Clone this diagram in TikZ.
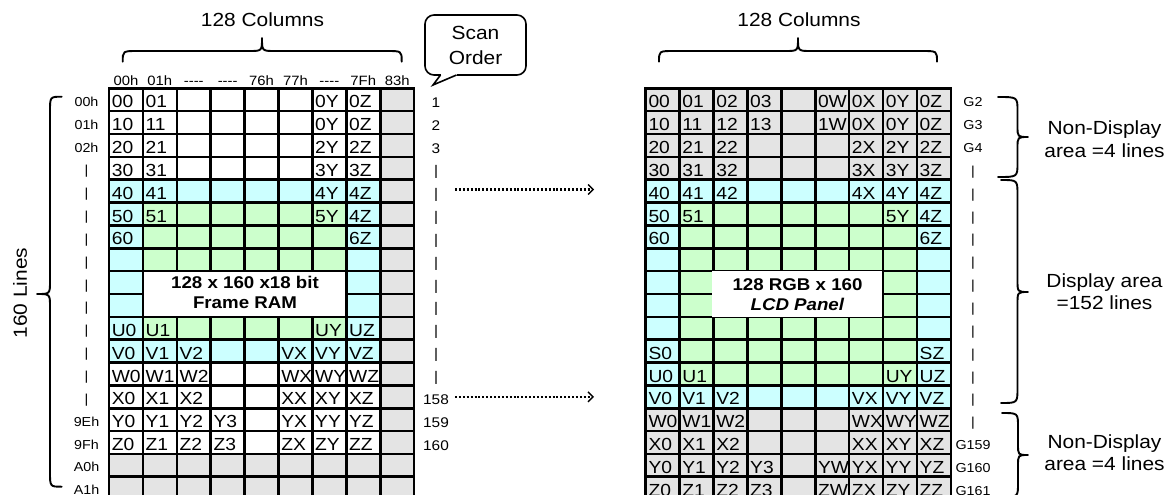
\documentclass[tikz,border=0pt]{standalone}
\usepackage{fontspec}
\setmainfont{Liberation Sans}[FakeStretch=1.1]
\usetikzlibrary{arrows.meta}
\definecolor{cW}{RGB}{255,255,255}
\definecolor{cC}{RGB}{204,255,255}
\definecolor{cN}{RGB}{204,255,204}
\definecolor{cG}{RGB}{228,228,228}
% horizontal brace, tip up: #1 y ends, #2 y straight, #3 y tip, #4 x left, #5 x right, #6 x tip, #7 end radius, #8 tip radius
\newcommand\mybraceh[8]{\draw[bracestyle] (#4,#1) .. controls (#4,#2) .. ({#4+#7},#2) -- ({#6-#8},#2) .. controls (#6,#2) .. (#6,#3) .. controls (#6,#2) .. ({#6+#8},#2) -- ({#5-#7},#2) .. controls (#5,#2) .. (#5,#1);}
% vertical brace: #1 x ends, #2 x straight, #3 x tip, #4 y top, #5 y bottom, #6 y tip, #7 end radius, #8 tip radius
\newcommand\mybracev[8]{\draw[bracestyle] (#1,#4) .. controls (#2,#4) .. (#2,{#4+#7}) -- (#2,{#6-#8}) .. controls (#2,#6) .. (#3,#6) .. controls (#2,#6) .. (#2,{#6+#8}) -- (#2,{#5-#7}) .. controls (#2,#5) .. (#1,#5);}
\newcommand\dsh{-{}-{}-{}-}
\begin{document}
\begin{tikzpicture}[x=1pt,y=-1pt,
  gridline/.style={line width=2.6pt, line cap=rect},
  celltxt/.style={anchor=base west, inner sep=0pt, font=\fontsize{17.5}{20}\selectfont},
  rowlbl/.style={anchor=base, inner sep=0pt, font=\fontsize{13}{15}\selectfont},
  collbl/.style={anchor=base, inner sep=0pt, font=\fontsize{13.5}{15}\selectfont},
  scanlbl/.style={anchor=base, inner sep=0pt, font=\fontsize{14}{16}\selectfont},
  glbl/.style={anchor=base, inner sep=0pt, font=\fontsize{13}{15}\selectfont},
  ttl/.style={inner sep=0pt, font=\fontsize{19}{22}\selectfont},
  sidetxt/.style={inner sep=0pt, align=center, font=\fontsize{19}{22.5}\selectfont},
  boxtxt/.style={inner sep=0pt, align=center, font=\fontsize{17}{20}\selectfont\bfseries},
  bracestyle/.style={line width=1.9pt, line cap=round, line join=round},
  dotarrow/.style={line width=2.2pt, dash pattern=on 2pt off 1.9pt, -{Straight Barb[length=5pt,width=10pt,line width=1.4pt]}},
]
\useasboundingbox (0,0) rectangle (1172,495);
\clip (0,0) rectangle (1172,495);
\def\LX{109}\def\RX{645.7}\def\GY{88.3}\def\CW{33.9}\def\RH{22.85}
% ---------- left grid fills
\foreach \row [count=\ri from 0] in {
{W,W,W,W,W,W,W,W,G},{W,W,W,W,W,W,W,W,G},{W,W,W,W,W,W,W,W,G},{W,W,W,W,W,W,W,W,G},
{C,C,C,C,C,C,C,C,G},{C,N,N,N,N,N,N,C,G},{C,N,N,N,N,N,N,C,G},{C,N,N,N,N,N,N,C,G},
{C,W,W,W,W,W,W,C,G},{C,W,W,W,W,W,W,C,G},{C,N,N,N,N,N,N,C,G},{C,C,C,C,C,C,C,C,G},
{W,W,W,W,W,W,W,W,G},{W,W,W,W,W,W,W,W,G},{W,W,W,W,W,W,W,W,G},{W,W,W,W,W,W,W,W,G},
{G,G,G,G,G,G,G,G,G},{G,G,G,G,G,G,G,G,G}}{
  \foreach \k [count=\ci from 0] in \row
    \fill[c\k] ({\LX+\ci*\CW},{\GY+\ri*\RH}) rectangle ++(\CW,\RH);
}
% ---------- right grid fills
\foreach \row [count=\ri from 0] in {
{G,G,G,G,G,G,G,G,G},{G,G,G,G,G,G,G,G,G},{G,G,G,G,G,G,G,G,G},{G,G,G,G,G,G,G,G,G},
{C,C,C,C,C,C,C,C,C},{C,N,N,N,N,N,N,N,C},{C,N,N,N,N,N,N,N,C},{C,N,N,N,N,N,N,N,C},
{C,N,N,N,N,N,N,N,C},{C,N,N,N,N,N,N,N,C},{C,N,N,N,N,N,N,N,C},{C,N,N,N,N,N,N,N,C},
{C,N,N,N,N,N,N,N,C},{C,C,C,C,C,C,C,C,C},
{G,G,G,G,G,G,G,G,G},{G,G,G,G,G,G,G,G,G},{G,G,G,G,G,G,G,G,G},{G,G,G,G,G,G,G,G,G}}{
  \foreach \k [count=\ci from 0] in \row
    \fill[c\k] ({\RX+\ci*\CW},{\GY+\ri*\RH}) rectangle ++(\CW,\RH);
}
% ---------- grid lines
\foreach \ci in {0,...,9}{
  \draw[gridline] ({\LX+\ci*\CW},\GY) -- ++(0,{18*\RH});
  \draw[gridline] ({\RX+\ci*\CW},\GY) -- ++(0,{18*\RH});
}
\foreach \ri in {0,...,18}{
  \draw[gridline] (\LX,{\GY+\ri*\RH}) -- ++({9*\CW},0);
  \draw[gridline] (\RX,{\GY+\ri*\RH}) -- ++({9*\CW},0);
}
% ---------- white title boxes
\fill[white] ({\LX+\CW+1.3},{\GY+8*\RH+1.3}) rectangle ({\LX+7*\CW-1.3},{\GY+10*\RH-1.3});
\fill[white] ({\RX+2*\CW-1.4},{\GY+8*\RH}) rectangle ({\RX+7*\CW-1},{\GY+10*\RH});
\node[boxtxt] (ramtxt) at (245,292.5) {128 x 160 x18 bit\\Frame RAM};
\node[boxtxt] (lcdtxt) at (797.5,295) {128 RGB x 160\\\textit{LCD Panel}};
% ---------- left cell texts
\foreach \row [count=\ri from 0] in {
{00,01,{},{},{},{},0Y,0Z},{10,11,{},{},{},{},0Y,0Z},{20,21,{},{},{},{},2Y,2Z},{30,31,{},{},{},{},3Y,3Z},
{40,41,{},{},{},{},4Y,4Z},{50,51,{},{},{},{},5Y,4Z},{60,{},{},{},{},{},{},6Z},{{}},{{}},{{}},
{U0,U1,{},{},{},{},UY,UZ},{V0,V1,V2,{},{},VX,VY,VZ},{W0,W1,W2,{},{},WX,WY,WZ},{X0,X1,X2,{},{},XX,XY,XZ},
{Y0,Y1,Y2,Y3,{},YX,YY,YZ},{Z0,Z1,Z2,Z3,{},ZX,ZY,ZZ}}{
  \foreach \t [count=\ci from 0] in \row
    \node[celltxt] (L\ri-\ci) at ({\LX+\ci*\CW+2.6},{\GY+\ri*\RH+19.5}) {\t};
}
% ---------- right cell texts
\foreach \row [count=\ri from 0] in {
{00,01,02,03,{},0W,0X,0Y,0Z},{10,11,12,13,{},1W,0X,0Y,0Z},{20,21,22,{},{},{},2X,2Y,2Z},{30,31,32,{},{},{},3X,3Y,3Z},
{40,41,42,{},{},{},4X,4Y,4Z},{50,51,{},{},{},{},{},5Y,4Z},{60,{},{},{},{},{},{},{},6Z},{{}},{{}},{{}},{{}},
{S0,{},{},{},{},{},{},{},SZ},{U0,U1,{},{},{},{},{},UY,UZ},{V0,V1,V2,{},{},{},VX,VY,VZ},
{W0,W1,W2,{},{},{},WX,WY,WZ},{X0,X1,X2,{},{},{},XX,XY,XZ},{Y0,Y1,Y2,Y3,{},YW,YX,YY,YZ},{Z0,Z1,Z2,Z3,{},ZW,ZX,ZY,ZZ}}{
  \foreach \t [count=\ci from 0] in \row
    \node[celltxt] (R\ri-\ci) at ({\RX+\ci*\CW+2.6},{\GY+\ri*\RH+19.5}) {\t};
}
% ---------- labels
\foreach \t [count=\ri from 0] in {00h,01h,02h,|,|,|,|,|,|,|,|,|,|,|,9Eh,9Fh,A0h,A1h}
  \node[rowlbl] (LR\ri) at (86.5,{\GY+\ri*\RH+18}) {\t};
\foreach \t [count=\ri from 0] in {1,2,3,|,|,|,|,|,|,|,|,|,|,158,159,160}
  \node[scanlbl] (S\ri) at (436,{\GY+\ri*\RH+19}) {\t};
\foreach \t [count=\ri from 0] in {G2,G3,G4,|,|,|,|,|,|,|,|,|,|,|,|,G159,G160,G161}
  \node[glbl] (G\ri) at (973,{\GY+\ri*\RH+18.5}) {\t};
\foreach \t [count=\ci from 0] in {00h,01h,\dsh,\dsh,76h,77h,\dsh,7Fh,83h}
  \node[collbl] (H\ci) at ({\LX+(\ci+0.5)*\CW},85) {\t};
% ---------- titles and braces
\node[ttl] (ttlL) at (262.5,20) {128 Columns};
\node[ttl] (ttlR) at (799,20) {128 Columns};
\node[ttl, rotate=90] (lines) at (20,293) {160 Lines};
\mybraceh{61.7}{51}{38}{122.7}{401.7}{262}{15}{13}
\mybraceh{61.7}{51}{38}{659}{937}{798}{15}{13}
\mybracev{61.7}{50}{37}{96.7}{486.7}{294}{15}{13}
\mybracev{998}{1017.5}{1028}{97}{177}{137}{14}{11}
\mybracev{1001}{1017.5}{1028}{180}{403}{292}{15}{12}
\mybracev{1002}{1018}{1028}{413}{497}{455}{14}{11}
\node[sidetxt] (nd1) at (1104.5,139) {Non-Display\\area =4 lines};
\node[sidetxt] (disp) at (1104.5,291.5) {Display area\\=152 lines};
\node[sidetxt] (nd2) at (1104.5,452.5) {Non-Display\\area =4 lines};
% ---------- callout
\node[draw, line width=1.6pt, rounded corners=9pt, minimum width=101pt, minimum height=60pt, inner sep=0pt, align=center, fill=white, font=\fontsize{19}{25}\selectfont] (scan) at (475.5,45) {Scan\\Order};
\coordinate (tipS) at (433,85);
\fill[white] (440.5,73) rectangle (456.5,77);
\draw[line width=1.6pt, line join=miter] (440.5,75) -- (tipS) -- (456.5,75);
% ---------- dotted arrows
\coordinate (a1s) at (455,189.5);
\coordinate (a1e) at (594,189.5);
\coordinate (a2s) at (455,396.8);
\coordinate (a2e) at (594,396.8);
\draw[dotarrow] (a1s) -- (a1e);
\draw[dotarrow] (a2s) -- (a2e);
\end{tikzpicture}
\end{document}
